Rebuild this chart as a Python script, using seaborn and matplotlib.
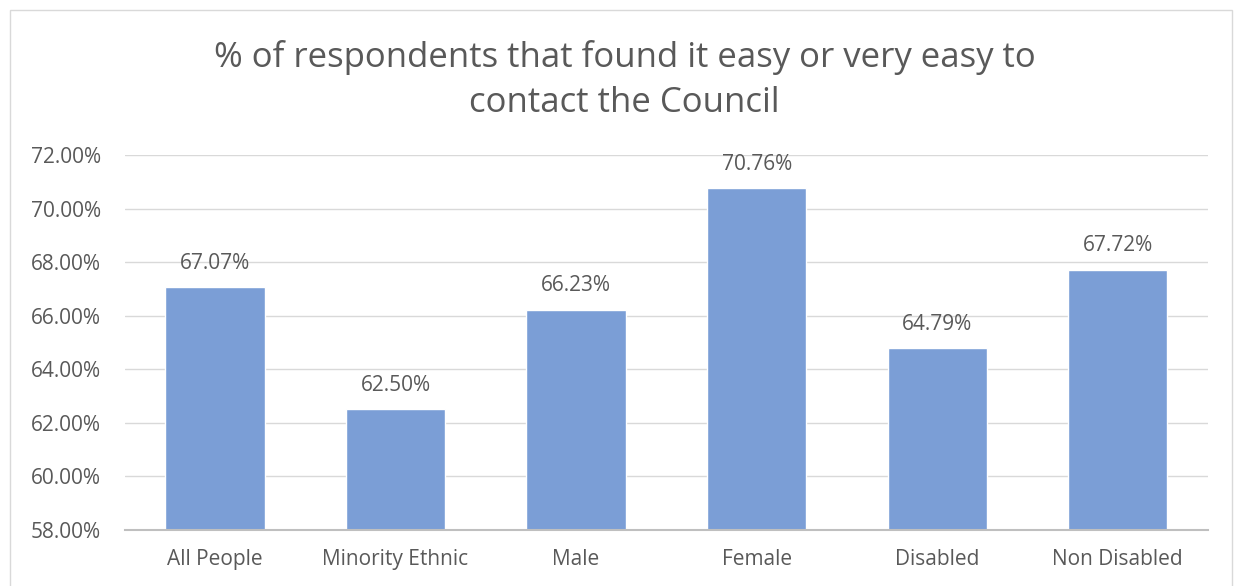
import pandas as pd
import seaborn as sns
import matplotlib.pyplot as plt
from matplotlib.patches import Rectangle
from matplotlib.ticker import FuncFormatter

# Chart data
groups = ['All People', 'Minority Ethnic', 'Male', 'Female', 'Disabled', 'Non Disabled']
pct_easy = [67.07, 62.50, 66.23, 70.76, 64.79, 67.72]
y_ticks = [58, 60, 62, 64, 66, 68, 70, 72]

df = pd.DataFrame({'group': groups, 'pct': pct_easy})

sns.set_theme(style='white')
plt.rcParams['font.family'] = ['Open Sans', 'DejaVu Sans']
text_col = '#595959'

fig = plt.figure(figsize=(12.34, 5.86), dpi=100)
ax = fig.add_axes([0.101, 0.0956, 0.878, 0.64])

sns.barplot(data=df, x='group', y='pct', color='#7B9ED6', saturation=1,
            width=0.55, ax=ax, zorder=3)

ax.set_ylim(58, 72)
ax.set_yticks(y_ticks)
ax.yaxis.set_major_formatter(FuncFormatter(lambda v, p: f'{v:.2f}%'))
ax.grid(axis='y', color='#D9D9D9', linewidth=1, zorder=0)
ax.set_axisbelow(True)
for side in ['left', 'right', 'top']:
    ax.spines[side].set_visible(False)
ax.spines['bottom'].set_color('#BFBFBF')
ax.spines['bottom'].set_linewidth(1.5)
ax.spines['bottom'].set_zorder(4)
ax.tick_params(axis='both', length=0, labelsize=15, colors=text_col)
ax.tick_params(axis='y', pad=17)
ax.tick_params(axis='x', pad=14)
ax.set_xlabel('')
ax.set_ylabel('')

for i, v in enumerate(pct_easy):
    ax.text(i, v + 0.5, f'{v:.2f}%', ha='center', va='bottom',
            fontsize=15, color=text_col)

fig.text(0.506, 0.863, '% of respondents that found it easy or very easy to\ncontact the Council',
         ha='center', va='center', fontsize=25, color=text_col, linespacing=1.42)

# chart border
fig.patches.append(Rectangle((0.008, -0.01), 0.99, 0.993, transform=fig.transFigure,
                             fill=False, edgecolor='#D9D9D9', linewidth=1))

fig.savefig('out.png', dpi=100)
